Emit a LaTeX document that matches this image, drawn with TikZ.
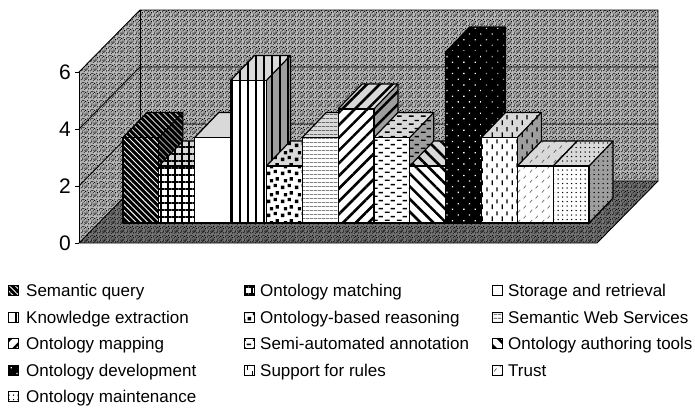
\documentclass[tikz,border=0pt]{standalone}
\usepackage{fontspec}
\setmainfont{Liberation Sans}
\usetikzlibrary{patterns,patterns.meta}

\pgfdeclarepatternformonly{speckle}{\pgfpointorigin}{\pgfpoint{9pt}{9pt}}{\pgfpoint{9pt}{9pt}}{%
  \pgfpathrectangle{\pgfpoint{0.5pt}{1pt}}{\pgfpoint{1pt}{1pt}}%
  \pgfpathrectangle{\pgfpoint{3.2pt}{0.3pt}}{\pgfpoint{1pt}{1pt}}%
  \pgfpathrectangle{\pgfpoint{6.1pt}{2.4pt}}{\pgfpoint{1pt}{1pt}}%
  \pgfpathrectangle{\pgfpoint{7.8pt}{5.5pt}}{\pgfpoint{1pt}{1pt}}%
  \pgfpathrectangle{\pgfpoint{1.7pt}{4.2pt}}{\pgfpoint{1pt}{1pt}}%
  \pgfpathrectangle{\pgfpoint{4.4pt}{6.8pt}}{\pgfpoint{1pt}{1pt}}%
  \pgfpathrectangle{\pgfpoint{2.6pt}{7.7pt}}{\pgfpoint{1pt}{1pt}}%
  \pgfpathrectangle{\pgfpoint{5.3pt}{3.9pt}}{\pgfpoint{1pt}{1pt}}%
  \pgfpathrectangle{\pgfpoint{7.9pt}{0.8pt}}{\pgfpoint{1pt}{1pt}}%
  \pgfpathrectangle{\pgfpoint{0.2pt}{6.3pt}}{\pgfpoint{1pt}{1pt}}%
  \pgfpathrectangle{\pgfpoint{6.9pt}{7.9pt}}{\pgfpoint{1pt}{1pt}}%
  \pgfpathrectangle{\pgfpoint{3.8pt}{2.6pt}}{\pgfpoint{1pt}{1pt}}%
  \pgfpathrectangle{\pgfpoint{1.2pt}{2.6pt}}{\pgfpoint{1pt}{1pt}}%
  \pgfpathrectangle{\pgfpoint{4.9pt}{1.3pt}}{\pgfpoint{1pt}{1pt}}%
  \pgfpathrectangle{\pgfpoint{7.2pt}{3.8pt}}{\pgfpoint{1pt}{1pt}}%
  \pgfpathrectangle{\pgfpoint{3.1pt}{5.4pt}}{\pgfpoint{1pt}{1pt}}%
  \pgfpathrectangle{\pgfpoint{6.0pt}{6.1pt}}{\pgfpoint{1pt}{1pt}}%
  \pgfpathrectangle{\pgfpoint{0.9pt}{8.0pt}}{\pgfpoint{1pt}{1pt}}%
  \pgfusepath{fill}}

\pgfdeclarepatternformonly{bigdots}{\pgfpointorigin}{\pgfpoint{14pt}{14pt}}{\pgfpoint{14pt}{14pt}}{%
  \pgfpathrectangle{\pgfpoint{1pt}{1pt}}{\pgfpoint{3.5pt}{3.5pt}}%
  \pgfpathrectangle{\pgfpoint{8pt}{3pt}}{\pgfpoint{3.5pt}{3.5pt}}%
  \pgfpathrectangle{\pgfpoint{4pt}{8pt}}{\pgfpoint{3.5pt}{3.5pt}}%
  \pgfpathrectangle{\pgfpoint{10pt}{10pt}}{\pgfpoint{3.5pt}{3.5pt}}%
  \pgfusepath{fill}}

\pgfdeclarepatternformonly{hdash}{\pgfpointorigin}{\pgfpoint{12pt}{8pt}}{\pgfpoint{12pt}{8pt}}{%
  \pgfsetlinewidth{1.5pt}%
  \pgfpathmoveto{\pgfpoint{1pt}{2pt}}\pgfpathlineto{\pgfpoint{6pt}{2pt}}%
  \pgfpathmoveto{\pgfpoint{7pt}{6pt}}\pgfpathlineto{\pgfpoint{11.5pt}{6pt}}%
  \pgfusepath{stroke}}

\pgfdeclarepatternformonly{vdash}{\pgfpointorigin}{\pgfpoint{10pt}{12pt}}{\pgfpoint{10pt}{12pt}}{%
  \pgfsetlinewidth{1.4pt}%
  \pgfpathmoveto{\pgfpoint{2.5pt}{1pt}}\pgfpathlineto{\pgfpoint{2.5pt}{6pt}}%
  \pgfpathmoveto{\pgfpoint{7.5pt}{7pt}}\pgfpathlineto{\pgfpoint{7.5pt}{11.5pt}}%
  \pgfusepath{stroke}}

\pgfdeclarepatternformonly{slashes}{\pgfpointorigin}{\pgfpoint{12pt}{10pt}}{\pgfpoint{12pt}{10pt}}{%
  \pgfsetlinewidth{0.7pt}%
  \pgfpathmoveto{\pgfpoint{2pt}{1.5pt}}\pgfpathlineto{\pgfpoint{4.5pt}{4.5pt}}%
  \pgfpathmoveto{\pgfpoint{8pt}{6pt}}\pgfpathlineto{\pgfpoint{10.5pt}{9pt}}%
  \pgfusepath{stroke}}

\tikzset{
  wall/.style={preaction={fill=black!28}, pattern=speckle, pattern color=black},
  floorface/.style={preaction={fill=black!55}, pattern=speckle, pattern color=black},
  frame/.style={draw=black, line width=0.9pt, line join=round},
  grid line/.style={draw=black, line width=0.8pt},
  barline/.style={draw=black, line width=1.2pt, line join=round},
  ticklabel/.style={anchor=east, inner sep=0pt, font=\fontsize{21}{21}\selectfont},
  legtext/.style={anchor=base west, inner sep=0pt, font=\fontsize{17}{17}\selectfont},
  legbox/.style={draw=black, line width=0.9pt},
  p1/.style={preaction={fill=black}, pattern={Lines[angle=-45,distance=4.2pt,line width=0.9pt]}, pattern color=white},
  p2/.style={preaction={fill=white}, pattern={Hatch[angle=0,distance=7pt,line width=1.1pt]}, pattern color=black},
  p3/.style={fill=white},
  p4/.style={preaction={fill=white}, pattern={Lines[angle=90,distance=8pt,line width=2.6pt]}, pattern color=black},
  p5/.style={preaction={fill=white}, pattern=bigdots, pattern color=black},
  p6/.style={preaction={fill=white}, pattern={Lines[angle=0,distance=4pt,line width=0.8pt]}, pattern color=black!75},
  p7/.style={preaction={fill=white}, pattern={Lines[angle=45,distance=9pt,line width=2.6pt]}, pattern color=black},
  p8/.style={preaction={fill=white}, pattern=hdash, pattern color=black},
  p9/.style={preaction={fill=white}, pattern={Lines[angle=-45,distance=9pt,line width=2.6pt]}, pattern color=black},
  p10/.style={preaction={fill=black}, pattern={Dots[radius=0.9pt,distance=8pt,angle=45]}, pattern color=white},
  p11/.style={preaction={fill=white}, pattern=vdash, pattern color=black},
  p12/.style={preaction={fill=white}, pattern=slashes, pattern color=black!60},
  p13/.style={preaction={fill=white}, pattern={Dots[radius=0.75pt,distance=4.5pt]}, pattern color=black},
}

\newcommand{\drawbar}[3]{%
  \pgfmathsetmacro{\bxa}{123+#1*35.85}%
  \pgfmathsetmacro{\bxb}{\bxa+35.85}%
  \pgfmathsetmacro{\byt}{223-#2*28.5}%
  \path[#3] (\bxa,223) rectangle (\bxb,\byt);
  \path[#3] (\bxa,\byt) -- ++(24,-25) -- ++(35.85,0) -- (\bxb,\byt) -- cycle;
  \fill[black,fill opacity=0.15] (\bxa,\byt) -- ++(24,-25) -- ++(35.85,0) -- (\bxb,\byt) -- cycle;
  \path[#3] (\bxb,223) -- (\bxb,\byt) -- ++(24,-25) -- (\bxb+24,198) -- cycle;
  \fill[black,fill opacity=0.38] (\bxb,223) -- (\bxb,\byt) -- ++(24,-25) -- (\bxb+24,198) -- cycle;
  \path[barline] (\bxa,223) rectangle (\bxb,\byt);
  \path[barline] (\bxa,\byt) -- ++(24,-25) -- ++(35.85,0) -- (\bxb,\byt);
  \path[barline] (\bxb+24,\byt-25) -- (\bxb+24,198) -- (\bxb,223);
}

\newcommand{\legitem}[6]{% name, marker x, baseline y, style, text x, text
  \path[#4] (#2,#3-11) rectangle (#2+10,#3-1);
  \path[legbox] (#2,#3-11) rectangle (#2+10,#3-1);
  \node[legtext] (#1) at (#5,#3) {#6};
}

\begin{document}
\begin{tikzpicture}[x=1pt,y=-1pt]
\useasboundingbox (0,0) rectangle (695,413);
\fill[white] (0,0) rectangle (695,413);

% walls
\path[wall] (79,72) -- (140,10) -- (140,181) -- (79,243) -- cycle;
\path[wall] (140,10) -- (658,10) -- (658,181) -- (140,181) -- cycle;
% gridlines
\foreach \v in {2,4} {
  \pgfmathsetmacro{\gy}{243-\v*28.5}
  \draw[grid line] (79,\gy) -- (140,\gy-62) -- (658,\gy-62);
}
\path[frame] (79,72) -- (140,10) -- (658,10) -- (658,181);
\path[frame] (140,10) -- (140,181);
% floor
\path[floorface] (79,243) -- (597,243) -- (658,181) -- (140,181) -- cycle;
\path[frame] (79,243) -- (597,243) -- (658,181) -- (140,181) -- cycle;

% axis
\draw[line width=0.9pt] (79,72) -- (79,243);
\foreach \v in {0,2,4,6} {
  \pgfmathsetmacro{\ty}{243-\v*28.5}
  \draw[line width=0.9pt] (75,\ty) -- (79,\ty);
  \node[ticklabel] (tick\v) at (71,\ty) {\v};
}

% bars
\drawbar{0}{3}{p1}
\drawbar{1}{2}{p2}
\drawbar{2}{3}{p3}
\drawbar{3}{5}{p4}
\drawbar{4}{2}{p5}
\drawbar{5}{3}{p6}
\drawbar{6}{4}{p7}
\drawbar{7}{3}{p8}
\drawbar{8}{2}{p9}
\drawbar{9}{6}{p10}
\drawbar{10}{3}{p11}
\drawbar{11}{2}{p12}
\drawbar{12}{2}{p13}

% legend
\legitem{l1}{8}{296.5}{p1}{26}{Semantic query}
\legitem{l4}{8}{323}{p4}{26}{Knowledge extraction}
\legitem{l7}{8}{349.5}{p7}{26}{Ontology mapping}
\legitem{l10}{8}{376}{p10}{26}{Ontology development}
\legitem{l13}{8}{402.5}{p13}{26}{Ontology maintenance}
\legitem{l2}{244}{296.5}{p2}{260}{Ontology matching}
\legitem{l5}{244}{323}{p5}{260}{Ontology-based reasoning}
\legitem{l8}{244}{349.5}{p8}{260}{Semi-automated annotation}
\legitem{l11}{244}{376}{p11}{260}{Support for rules}
\legitem{l3}{492}{296.5}{p3}{508}{Storage and retrieval}
\legitem{l6}{492}{323}{p6}{508}{Semantic Web Services}
\legitem{l9}{492}{349.5}{p9}{508}{Ontology authoring tools}
\legitem{l12}{492}{376}{p12}{508}{Trust}
\end{tikzpicture}
\end{document}
